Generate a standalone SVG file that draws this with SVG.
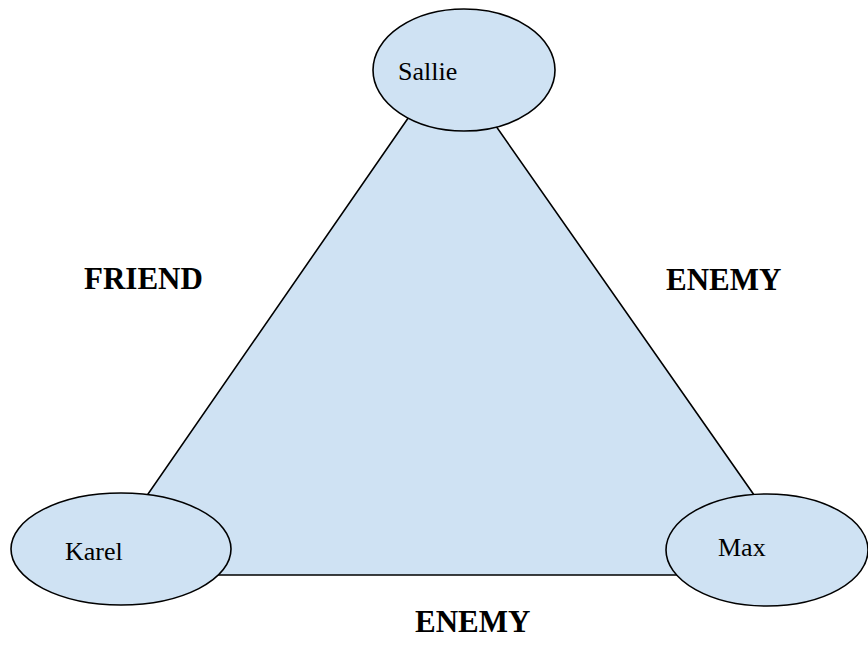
<svg xmlns="http://www.w3.org/2000/svg" width="868" height="659" viewBox="0 0 868 659">
<style>
.shape{fill:#cfe2f3;stroke:#000;stroke-width:1.6}
.name{font-family:"Liberation Serif",serif;font-size:26px;fill:#000}
.rel{font-family:"Liberation Serif",serif;font-size:31px;font-weight:bold;fill:#000}
</style>
<rect width="868" height="659" fill="#fff"/>
<g id="connectors">
<polygon class="shape" points="449,59 92,575 810,575"/>
</g>
<g id="sallie">
<ellipse class="shape" cx="464" cy="70" rx="91" ry="61"/>
<text class="name" x="398" y="80">Sallie</text>
</g>
<g id="karel">
<ellipse class="shape" cx="121" cy="549" rx="110" ry="56"/>
<text class="name" x="65" y="560">Karel</text>
</g>
<g id="max">
<ellipse class="shape" cx="767" cy="550" rx="101" ry="56"/>
<text class="name" x="718" y="556">Max</text>
</g>
<g id="labels">
<text class="rel" x="84" y="289">FRIEND</text>
<text class="rel" x="666" y="290">ENEMY</text>
<text class="rel" x="415" y="632">ENEMY</text>
</g>
</svg>
